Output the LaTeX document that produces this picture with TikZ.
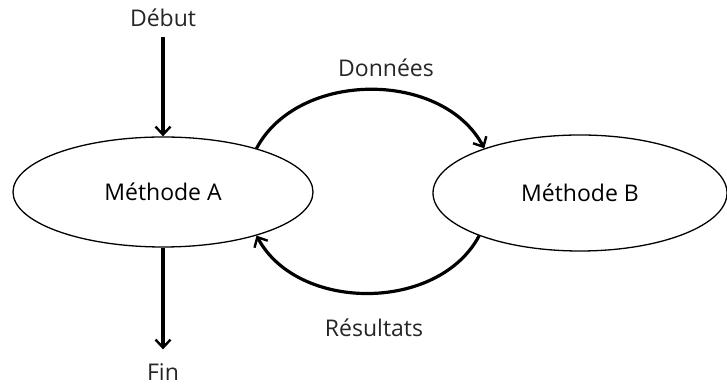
\documentclass[tikz,border=0pt]{standalone}
\usepackage{fontspec}
\setmainfont{Open Sans}
\usepackage{tikz}
\usetikzlibrary{shapes,arrows,arrows.meta}
\tikzstyle{methode} = [draw, ellipse, line width=1.3pt, inner sep=0pt]
\tikzstyle{txt} = [inner sep=2pt, text=black!85]
\tikzstyle{flux} = [line width=3.2pt, -{Straight Barb[length=8pt,width=15pt,line width=2.4pt]}]

\begin{document}
\begin{tikzpicture}[x=1pt, y=1pt, font=\fontsize{23}{26}\selectfont]
    \useasboundingbox (0,0) rectangle (727,387);
    % the two methods
    \node [methode, minimum width=300pt, minimum height=110pt] (methA) at (163,195) {Méthode A};
    \node [methode, minimum width=294pt, minimum height=116pt] (methB) at (580,194) {Méthode B};
    % texts around them
    \node [txt] (debut) at (163,369) {Début};
    \node [txt] (fin) at (163,15) {Fin};
    \node [txt] (donnees) at (386,319) {Données};
    \node [txt] (resultats) at (374,59) {Résultats};
    % start and end
    \draw [flux] ([yshift=-8pt]debut.south) -- (methA.north);
    \draw [flux] (methA.south) -- ([yshift=12pt]fin.north);
    % exchange between A and B
    \draw [flux] (methA.25) to[out=62, in=118] (methB.155);
    \draw [flux] (methB.203) to[out=-118, in=-62] (methA.335);
\end{tikzpicture}
\end{document}
